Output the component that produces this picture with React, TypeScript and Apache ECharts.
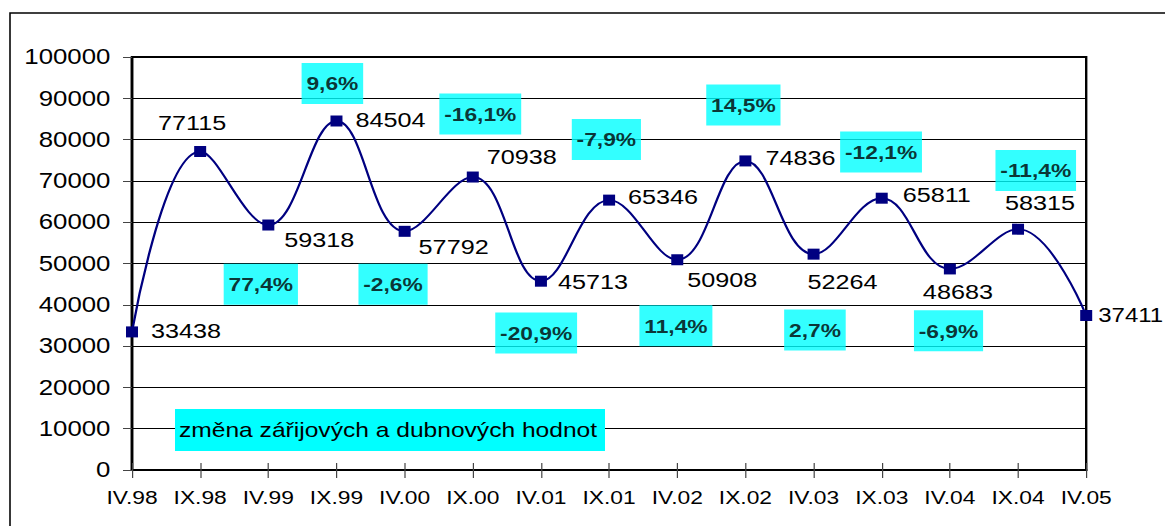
import React, { useEffect, useRef } from "react";
import * as echarts from "echarts";

// ---- data ----
const categories = ["IV.98", "IX.98", "IV.99", "IX.99", "IV.00", "IX.00", "IV.01", "IX.01", "IV.02", "IX.02", "IV.03", "IX.03", "IV.04", "IX.04", "IV.05"];
const values = [33438, 77115, 59318, 84504, 57792, 70938, 45713, 65346, 50908, 74836, 52264, 65811, 48683, 58315, 37411];
const yTicks = { min: 0, max: 100000, interval: 10000 };
const changeLabels = ["77,4%", "9,6%", "-2,6%", "-16,1%", "-20,9%", "-7,9%", "11,4%", "14,5%", "2,7%", "-12,1%", "-6,9%", "-11,4%", "-23,2%"];
const noteText = "změna zářijových a dubnových hodnot";

// ---- layout (kept apart from data) ----
const S = 1.2; // horizontal stretch of the original picture
const W = 1165 / S;
const H = 526;
// value-label offsets from each point, in picture pixels [dx, dy]
const valueLabelOffsets: [number, number][] = [
  [54, -1], [-8, -29], [51, 15], [54, -1], [49, 15], [49, -20], [52, 1], [54, -3],
  [45, 20], [55, -3], [29, 28], [55, -3], [8, 23], [22, -26], [44.5, 0],
];
// font size per value label (the last one is squeezed against the picture edge)
const valueLabelSizes = [21, 21, 21, 21, 21, 21, 21, 21, 21, 21, 21, 21, 21, 21, 20];
// anchor of each change box: [category position, value level]
const changeAnchors: [number, number][] = [
  [1.89, 45000], [2.94, 93600], [3.83, 45000], [5.11, 86200], [5.93, 33200], [6.96, 80000],
  [7.98, 34900], [8.97, 88400], [10.02, 33900], [10.99, 77000], [11.98, 33700], [13.26, 72500], [14.04, 26200],
];

const FONT = "'Liberation Sans', Arial, sans-serif";

export default function App() {
  const ref = useRef<HTMLDivElement>(null);
  useEffect(() => {
    if (!ref.current) return;
    const chart = echarts.init(ref.current, undefined, { renderer: "svg" });
    const plotLeft = 132 / S;
    const plotRight = W - 1086 / S;
    chart.setOption({
      animation: false,
      backgroundColor: "#ffffff",
      textStyle: { fontFamily: FONT, color: "#000" },
      grid: {
        left: plotLeft,
        right: plotRight,
        top: 57,
        bottom: H - 470,
        show: true,
        borderColor: "#000",
        borderWidth: 2,
        containLabel: false,
      },
      xAxis: [
        {
          type: "category",
          data: categories,
          boundaryGap: false,
          axisLine: { show: true, lineStyle: { color: "#000", width: 2.2 } },
          axisTick: { show: true, interval: 0, length: 8, lineStyle: { color: "#444", width: 1 } },
          axisLabel: { interval: 0, fontSize: 19, color: "#000", margin: 18, fontFamily: FONT },
          splitLine: { show: false },
        },
        {
          type: "value",
          min: 0,
          max: categories.length - 1,
          interval: 1,
          position: "bottom",
          axisLine: { show: false },
          axisTick: { show: true, inside: true, length: 7, lineStyle: { color: "#444", width: 1 } },
          axisLabel: { show: false },
          splitLine: { show: false },
        },
      ],
      yAxis: {
        type: "value",
        min: yTicks.min,
        max: yTicks.max,
        interval: yTicks.interval,
        axisLine: { show: true, lineStyle: { color: "#000", width: 2.2 } },
        axisTick: { show: true, length: 7.5, lineStyle: { color: "#444", width: 1 } },
        axisLabel: {
          fontSize: 21.5,
          color: "#000",
          margin: 18,
          fontFamily: FONT,
          formatter: (v: number) => String(v),
        },
        splitLine: { show: true, lineStyle: { color: "#000", width: 1 } },
      },
      series: [
        {
          type: "line",
          data: values.map((v, i) => ({
            value: v,
            label: {
              offset: [valueLabelOffsets[i][0] / S, valueLabelOffsets[i][1]],
              fontSize: valueLabelSizes[i],
            },
          })),
          smooth: 0.4,
          symbol: "rect",
          symbolSize: [10, 11],
          itemStyle: { color: "#000080" },
          lineStyle: { color: "#000080", width: 1.9 },
          label: {
            show: true,
            position: "inside",
            align: "center",
            verticalAlign: "middle",
            fontSize: 21,
            color: "#000",
            fontFamily: FONT,
          },
          z: 3,
        },
        {
          type: "scatter",
          xAxisIndex: 1,
          data: changeLabels.map((t, i) => ({ name: t, value: changeAnchors[i] })),
          symbolSize: 1,
          itemStyle: { color: "transparent" },
          label: {
            show: true,
            formatter: "{b}",
            position: "inside",
            align: "center",
            verticalAlign: "middle",
            fontSize: 19,
            fontWeight: "bold",
            color: "#000",
            fontFamily: FONT,
            backgroundColor: "#00FFFF",
            padding: [10, 4, 12, 4],
            lineHeight: 19,
          },
          z: 5,
        },
      ],
      graphic: [
        {
          type: "rect",
          z: 100,
          silent: true,
          shape: { x: 10 / S, y: 13, width: 2000, height: 1000 },
          style: { fill: "none", stroke: "#000", lineWidth: 1.3 },
        },
        {
          type: "rect",
          z: 100,
          silent: true,
          shape: { x: 175 / S, y: 409, width: 430 / S, height: 42 },
          style: { fill: "#00FFFF" },
        },
        {
          type: "text",
          z: 101,
          silent: true,
          x: 179 / S,
          y: 430,
          style: {
            text: noteText,
            fill: "#000",
            font: `20.5px ${FONT}`,
            verticalAlign: "middle",
            align: "left",
          },
        },
      ],
    });
    return () => chart.dispose();
  }, []);
  return (
    <div
      ref={ref}
      style={{
        position: "fixed",
        left: 0,
        top: 0,
        width: W,
        height: H,
        transform: `scaleX(${S})`,
        transformOrigin: "0 0",
      }}
    />
  );
}
